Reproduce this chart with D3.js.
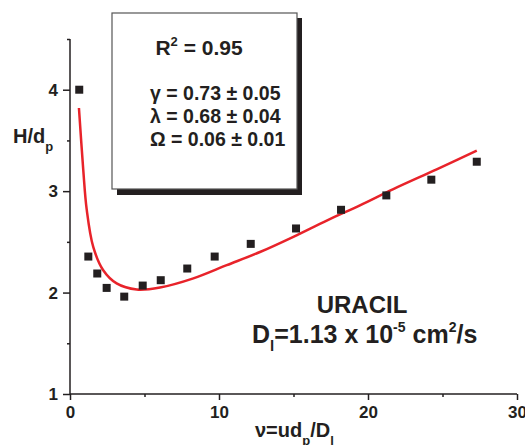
<!DOCTYPE html>
<html>
<head>
<meta charset="utf-8">
<script src="https://cdn.jsdelivr.net/npm/d3@7"></script>
<style>
  body { margin: 0; background: #fff; }
  text { font-family: "Liberation Sans", Arial, sans-serif; font-weight: bold; fill: #231f20; }
</style>
</head>
<body>
<svg id="chart" width="525" height="445"></svg>
<script>
// measured points (nu, H/dp)
var nuData = [0.62, 1.23, 1.83, 2.46, 3.64, 4.88, 6.09, 7.87, 9.71, 12.13, 15.17, 18.19, 21.23, 24.25, 27.30];
var hData  = [4.00, 2.355, 2.188, 2.046, 1.96, 2.069, 2.122, 2.237, 2.355, 2.48, 2.632, 2.816, 2.958, 3.113, 3.29];

// fitted curve
var fitNu = [0.60, 0.89, 1.12, 1.56, 2.23, 3.13, 4.48, 6.04, 8.28, 10.52, 12.75, 14.99, 17.23, 19.46, 21.70, 24.61, 27.30];
var fitH  = [3.82, 3.21, 2.82, 2.45, 2.22, 2.09, 2.03, 2.05, 2.14, 2.27, 2.40, 2.55, 2.71, 2.86, 3.02, 3.215, 3.40];

var xTicks = [0, 10, 20, 30];
var xMinor = [5, 15, 25];
var yTicks = [1, 2, 3, 4];
var yMinor = [1.5, 2.5, 3.5, 4.5];

var ink = "#231f20";
var svg = d3.select("#chart");

var x = d3.scaleLinear().domain([0, 30]).range([70, 517]);
var y = d3.scaleLinear().domain([1, 4.5]).range([394, 39]);

// axes
svg.append("g").attr("transform", "translate(0," + y(1) + ")")
  .call(d3.axisBottom(x).tickValues(xTicks).tickSize(6).tickPadding(6).tickFormat(d3.format("d")));
svg.append("g").attr("transform", "translate(0," + y(1) + ")")
  .call(d3.axisBottom(x).tickValues(xMinor).tickSize(3).tickFormat(""));
svg.append("g").attr("transform", "translate(" + x(0) + ",0)")
  .call(d3.axisLeft(y).tickValues(yTicks).tickSize(7).tickPadding(5).tickFormat(d3.format("d")));
svg.append("g").attr("transform", "translate(" + x(0) + ",0)")
  .call(d3.axisLeft(y).tickValues(yMinor).tickSize(3).tickFormat(""));

svg.selectAll(".domain").remove();
svg.selectAll(".tick line").attr("stroke", ink).attr("stroke-width", 1.5);
svg.selectAll(".tick text").style("font-size", "17px").attr("fill", ink);
svg.append("line").attr("x1", x(0)).attr("x2", x(30)).attr("y1", y(1)).attr("y2", y(1))
  .attr("stroke", ink).attr("stroke-width", 1.5);
svg.append("line").attr("x1", x(0)).attr("x2", x(0)).attr("y1", y(1)).attr("y2", y(4.5))
  .attr("stroke", ink).attr("stroke-width", 1.5);

// fit curve
var fitPts = fitNu.map(function(d, i) { return [d, fitH[i]]; });
svg.append("path")
  .datum(fitPts)
  .attr("fill", "none")
  .attr("stroke", "#e8232a")
  .attr("stroke-width", 2.5)
  .attr("d", d3.line().x(function(d) { return x(d[0]); }).y(function(d) { return y(d[1]); })
    .curve(d3.curveCatmullRom.alpha(0.5)));

// data squares
var pts = nuData.map(function(d, i) { return [d, hData[i]]; });
svg.selectAll(".pt").data(pts).enter().append("rect")
  .attr("class", "pt")
  .attr("x", function(d) { return x(d[0]) - 4; })
  .attr("y", function(d) { return y(d[1]) - 4; })
  .attr("width", 8).attr("height", 8)
  .attr("fill", ink);

// parameter box with shadow
svg.append("rect").attr("x", 117).attr("y", 18).attr("width", 185).attr("height", 177).attr("fill", ink);
svg.append("rect").attr("x", 112).attr("y", 13).attr("width", 185).attr("height", 176)
  .attr("fill", "#fff").attr("stroke", "#555").attr("stroke-width", 1.2);

var r2 = svg.append("text").attr("x", 199).attr("y", 55).attr("text-anchor", "middle").style("font-size", "21px");
r2.append("tspan").text("R");
r2.append("tspan").attr("dy", -9).style("font-size", "13px").text("2");
r2.append("tspan").attr("dy", 9).text(" = 0.95");

var params = ["\u03b3 = 0.73 \u00b1 0.05", "\u03bb = 0.68 \u00b1 0.04", "\u03a9 = 0.06 \u00b1 0.01"];
svg.selectAll(".par").data(params).enter().append("text")
  .attr("class", "par")
  .attr("x", 150)
  .attr("y", function(d, i) { return 100 + i * 23; })
  .style("font-size", "19.5px")
  .text(function(d) { return d; });

// y label
var yl = svg.append("text").attr("x", 13).attr("y", 143).style("font-size", "20px");
yl.append("tspan").text("H/d");
yl.append("tspan").attr("dy", 8).style("font-size", "13px").text("p");

// x label
var xl = svg.append("text").attr("x", 255).attr("y", 437).style("font-size", "20px");
xl.append("tspan").text("\u03bd=ud");
xl.append("tspan").attr("dy", 8).style("font-size", "13px").text("p");
xl.append("tspan").attr("dy", -8).text("/D");
xl.append("tspan").attr("dy", 8).style("font-size", "13px").text("l");

// compound annotation
svg.append("text").attr("x", 362).attr("y", 313).attr("text-anchor", "middle")
  .style("font-size", "24px").text("URACIL");
var dl = svg.append("text").attr("x", 252).attr("y", 343).style("font-size", "25px");
dl.append("tspan").text("D");
dl.append("tspan").attr("dy", 8).style("font-size", "15px").text("l");
dl.append("tspan").attr("dy", -8).text("=1.13 x 10");
dl.append("tspan").attr("dy", -11).style("font-size", "14px").text("-5");
dl.append("tspan").attr("dy", 11).text(" cm");
dl.append("tspan").attr("dy", -11).style("font-size", "14px").text("2");
dl.append("tspan").attr("dy", 11).text("/s");
</script>
</body>
</html>
